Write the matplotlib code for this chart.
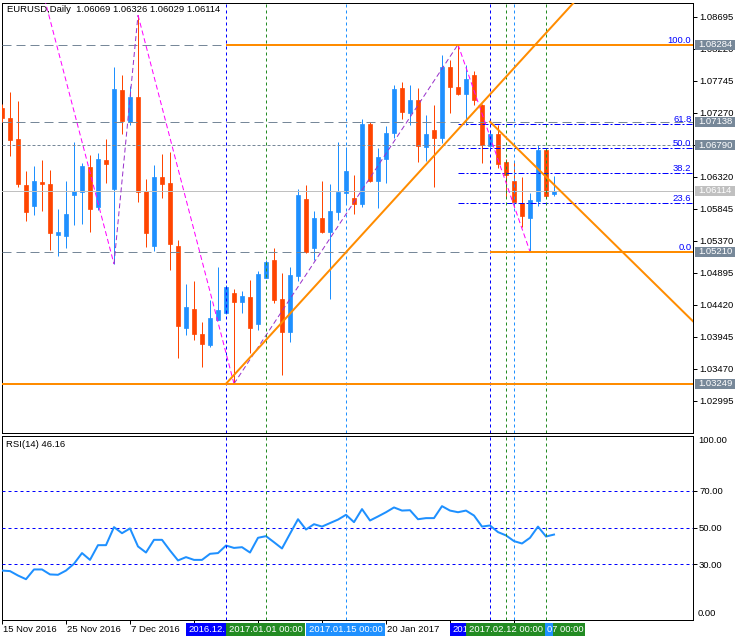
import matplotlib
matplotlib.use('Agg')
import matplotlib.pyplot as plt
from matplotlib.patches import Rectangle
import matplotlib.transforms as mtrans
import numpy as np

plt.rcParams['font.family'] = ['Liberation Sans', 'DejaVu Sans']

# ---------------- data ----------------
opens = [1.07342, 1.07198, 1.06882, 1.06199, 1.05892, 1.06243, 1.06214, 1.05461, 1.05446, 1.06050,
         1.06099, 1.06466, 1.05877, 1.06570, 1.06144, 1.07609, 1.07134, 1.07505, 1.06110, 1.05298,
         1.06318, 1.06229, 1.05293, 1.04081, 1.04358, 1.03987, 1.03828, 1.04199, 1.04303, 1.04596,
         1.04467, 1.04536, 1.04140, 1.04823, 1.05086, 1.04507, 1.04021, 1.04853, 1.05991, 1.05268,
         1.05709, 1.05506, 1.05803, 1.06085, 1.06006, 1.05921, 1.07104, 1.06263, 1.06589, 1.06975,
         1.07639, 1.07272, 1.07461, 1.06767, 1.07020, 1.06901, 1.07950, 1.07654, 1.07550, 1.07832,
         1.07386, 1.06778, 1.06956, 1.06540, 1.06258, 1.05932, 1.05714, 1.05966, 1.06718, 1.06069]
highs = [1.07401, 1.07579, 1.07446, 1.06407, 1.06481, 1.06570, 1.06422, 1.05843, 1.06258, 1.06837,
         1.06525, 1.06644, 1.06674, 1.06882, 1.07950, 1.07832, 1.07668, 1.08722, 1.06288, 1.06496,
         1.06659, 1.06689, 1.05382, 1.04729, 1.04774, 1.04165, 1.04492, 1.04982, 1.04715, 1.04655,
         1.04625, 1.04789, 1.04922, 1.05086, 1.05264, 1.04893, 1.04982, 1.06140, 1.06199, 1.05813,
         1.06258, 1.06214, 1.06837, 1.06763, 1.06347, 1.07179, 1.07134, 1.06748, 1.07075, 1.07683,
         1.07728, 1.07683, 1.07639, 1.07238, 1.07386, 1.08129, 1.08054, 1.08284, 1.07973, 1.07891,
         1.07401, 1.07015, 1.07090, 1.06585, 1.06540, 1.06322, 1.06085, 1.06793, 1.06733, 1.06326]
lows = [1.07134, 1.06634, 1.06174, 1.05665, 1.05754, 1.05817, 1.05234, 1.05149, 1.05268, 1.05610,
        1.05624, 1.05506, 1.05828, 1.06229, 1.05026, 1.06956, 1.07090, 1.05951, 1.05283, 1.05224,
        1.06010, 1.04937, 1.03635, 1.03977, 1.03903, 1.03502, 1.03799, 1.04188, 1.04284, 1.03249,
        1.04303, 1.03710, 1.04051, 1.04818, 1.04452, 1.03383, 1.03873, 1.04778, 1.05190, 1.05090,
        1.05482, 1.04511, 1.05684, 1.05921, 1.05773, 1.05877, 1.06243, 1.05862, 1.06233, 1.06901,
        1.07183, 1.07094, 1.06545, 1.06560, 1.06174, 1.06827, 1.07272, 1.07535, 1.07085, 1.07386,
        1.06525, 1.06748, 1.06451, 1.06025, 1.05877, 1.05580, 1.05210, 1.05892, 1.06028, 1.06029]
closes = [1.07193, 1.06867, 1.06214, 1.05798, 1.06258, 1.06214, 1.05486, 1.05501, 1.05768, 1.06110,
          1.06481, 1.05843, 1.06585, 1.06511, 1.07624, 1.07149, 1.07505, 1.06099, 1.05491, 1.06318,
          1.06218, 1.05316, 1.04110, 1.04388, 1.03992, 1.03843, 1.04225, 1.04343, 1.04685, 1.04467,
          1.04551, 1.04081, 1.04878, 1.05056, 1.04496, 1.04021, 1.04863, 1.06050, 1.05204, 1.05709,
          1.05497, 1.05813, 1.06095, 1.06407, 1.05921, 1.07104, 1.06263, 1.06615, 1.06971, 1.07624,
          1.07287, 1.07461, 1.06782, 1.06956, 1.06901, 1.07950, 1.07654, 1.07550, 1.07772, 1.07461,
          1.06793, 1.06956, 1.06511, 1.06347, 1.05951, 1.05743, 1.05976, 1.06718, 1.06040, 1.06114]
rsi = [26.6, 26.3, 23.9, 21.9, 27.2, 27.2, 24.5, 24.3, 26.6, 30.3,
       36.1, 32.4, 40.4, 40.4, 50.2, 46.9, 49.5, 39.7, 36.4, 43.3,
       43.3, 37.5, 32.1, 33.9, 32.4, 32.4, 35.7, 36.1, 40.2, 38.9,
       39.3, 36.4, 44.4, 45.3, 42.0, 38.6, 46.6, 54.5, 48.9, 51.8,
       50.5, 52.4, 54.3, 56.9, 52.9, 60.0, 53.8, 56.0, 58.3, 60.9,
       59.2, 59.4, 54.5, 55.1, 55.1, 61.6, 59.2, 58.3, 59.2, 56.5,
       50.5, 51.1, 47.5, 45.7, 42.6, 41.3, 44.4, 50.5, 45.1, 46.16]

price_ticks = ['1.08695', '1.08220', '1.07745', '1.07270', '1.06795', '1.06320', '1.05845',
               '1.05370', '1.04895', '1.04420', '1.03945', '1.03470', '1.02995']
rsi_levels = [70, 50, 30]
date_ticks = [0, 8, 16, 24, 32, 40, 48, 56, 64]
date_labels = {0: '15 Nov 2016', 8: '25 Nov 2016', 16: '7 Dec 2016', 48: '20 Jan 2017'}

# horizontal levels
level_high = 1.08284
level_r1 = 1.07138
level_r2 = 1.06790
level_cur = 1.06114
level_low = 1.05210
level_bottom = 1.03249
fib_levels = [100.0, 61.8, 50.0, 38.2, 23.6, 0.0]
fib_start = 57

# zigzag pivots (bar index, price)
zz_bar = [-4, 14, 17, 29, 57, 66]
zz_price = [1.1319, 1.05026, 1.08722, 1.03249, 1.08284, 1.05210]

# trend lines (two anchors each)
tl1 = [(28, 1.03249), (68, 1.08455)]
tl2 = [(61, 1.07138), (86, 1.04220)]

# vertical lines: bar, color, visible part of the label, draw order, where the visible part sits
vlines = [(28, '#0000FF', '2016.12.', 1, 'left'),
          (33, '#228B22', '2017.01.01 00:00', 2, 'center'),
          (43, '#1E90FF', '2017.01.15 00:00', 3, 'center'),
          (61, '#0000FF', '201', 1, 'left'),
          (68, '#228B22', '7 00:00', 1, 'right'),
          (64, '#1E90FF', '0', 2, 'right'),
          (63, '#228B22', '2017.02.12 00:00', 3, 'center')]

# ---------------- figure ----------------
W, H = 746, 640
fig = plt.figure(figsize=(W / 100, H / 100), dpi=100)
fig.patch.set_facecolor('white')

L_PX, R_PX = 2, 693
M_TOP, M_BOT = 2.5, 433
R_TOP, R_BOT = 435.5, 619.5
ax = fig.add_axes([L_PX / W, 1 - M_BOT / H, (R_PX - L_PX) / W, (M_BOT - M_TOP) / H])
axr = fig.add_axes([L_PX / W, 1 - R_BOT / H, (R_PX - L_PX) / W, (R_BOT - R_TOP) / H])

PX = 0.72  # one pixel in points
FS = 6.8
UP, DN = '#1E90FF', '#FF4500'
ORANGE = '#FF8C00'
GRAY = '#778899'

nbar = len(opens)
idx = np.arange(nbar)
o = np.array(opens); c = np.array(closes)
hi = np.array(highs); lo = np.array(lows)
cols = np.where(c >= o, UP, DN)

xmax = (R_PX - L_PX) / 8.0
ax.set_xlim(0, xmax)
ax.set_ylim(1.02518, 1.08908)
axr.set_xlim(0, xmax)
axr.set_ylim(0, 100)

# candles
ax.vlines(idx, lo, hi, colors=cols, lw=PX, zorder=3)
ax.bar(idx, np.maximum(np.abs(c - o), 0.00012), 0.58, bottom=np.minimum(o, c),
       color=cols, edgecolor=cols, lw=0.5, zorder=4)

# horizontal lines
long_dash = (0, (9, 5))
ax.axhline(level_high, color=GRAY, lw=PX, ls=long_dash, zorder=5)
ax.axhline(level_r1, color=GRAY, lw=PX, ls=long_dash, zorder=5)
ax.axhline(level_r2, color=GRAY, lw=PX, ls=(0, (3, 2)), zorder=5)
ax.axhline(level_cur, color='#C0C0C0', lw=PX, zorder=5)
ax.axhline(level_low, color=GRAY, lw=PX, ls=long_dash, zorder=5)
ax.axhline(level_bottom, color=ORANGE, lw=2 * PX, zorder=7)
ax.hlines(level_high, 28, xmax + 5, color=ORANGE, lw=2 * PX, zorder=7)
ax.hlines(level_low, 61, xmax + 5, color=ORANGE, lw=2 * PX, zorder=7)

# fibonacci
for lv in fib_levels:
    pr = level_low + lv / 100.0 * (level_high - level_low)
    if 0 < lv < 100:
        ax.hlines(pr, fib_start, xmax + 5, color='#0000FF', lw=PX, ls=(0, (6, 2, 2, 2)), zorder=6)
    ax.text(xmax - 0.2, pr, f'{lv:.1f}', color='#0000FF', fontsize=FS, ha='right', va='bottom', zorder=8)

# zigzag
for i in range(len(zz_bar) - 1):
    col = '#9932CC' if zz_price[i + 1] > zz_price[i] else '#FF00FF'
    ax.plot(zz_bar[i:i + 2], zz_price[i:i + 2], color=col, lw=PX, ls=(0, (5, 3)), zorder=6)

# trend lines (rays)
for (x1, y1), (x2, y2) in (tl1, tl2):
    xe = xmax + 5
    ye = y1 + (y2 - y1) / (x2 - x1) * (xe - x1)
    ax.plot([x1, xe], [y1, ye], color=ORANGE, lw=2 * PX, zorder=7)

# vertical lines
for b, col, lab, z, pos in vlines:
    for a in (ax, axr):
        a.axvline(b, color=col, lw=PX, ls=(0, (3, 3)), zorder=6)

# RSI
axr.plot(idx, rsi, color='#1E90FF', lw=2 * PX, zorder=5)
for lv in rsi_levels:
    axr.axhline(lv, color='#0000FF', lw=PX, ls=(0, (3, 3)), zorder=4)

# spines/ticks
for a in (ax, axr):
    for s in a.spines.values():
        s.set_color('black'); s.set_linewidth(PX)
    a.tick_params(axis='y', which='both', right=True, left=False, labelright=True, labelleft=False,
                  length=4 * PX, width=PX, pad=1.5, labelsize=FS, colors='black')
ax.set_xticks([])
ax.set_yticks([float(t) for t in price_ticks])
ax.set_yticklabels(price_ticks)
axr.set_yticks(rsi_levels)
axr.set_yticklabels([f'{v:.2f}' for v in rsi_levels])
axr.set_xticks(date_ticks)
axr.set_xticklabels([''] * len(date_ticks))
axr.tick_params(axis='x', length=4 * PX, width=PX, direction='out')

rsi_px = 100.0 / (R_BOT - R_TOP)
tby = mtrans.blended_transform_factory(axr.transAxes, axr.transData)
axr.text(1.0 + 5 / (R_PX - L_PX), 100 - 4.5 * rsi_px, '100.00', transform=tby,
         fontsize=FS, va='center', ha='left', clip_on=False)
axr.text(1.0 + 5 / (R_PX - L_PX), 6.5 * rsi_px, '0.00', transform=tby,
         fontsize=FS, va='center', ha='left', clip_on=False)

# right-axis price boxes
ppp = (ax.get_ylim()[1] - ax.get_ylim()[0]) / (M_BOT - M_TOP)
tb = mtrans.blended_transform_factory(ax.transAxes, ax.transData)
wpx = R_PX - L_PX
for val in (level_high, level_r1, level_r2, level_cur, level_low, level_bottom):
    fc = '#C0C0C0' if val == level_cur else GRAY
    ax.add_patch(Rectangle((1 + 2 / wpx, val - 5 * ppp), 40 / wpx, 10 * ppp, transform=tb,
                           facecolor=fc, edgecolor='none', clip_on=False, zorder=20))
    ax.text(1 + 22 / wpx, val, f'{val:.5f}', transform=tb, color='white', fontsize=FS,
            ha='center', va='center', clip_on=False, zorder=21)

# title and RSI label
o_, h_, l_, c_ = opens[-1], highs[-1], lows[-1], closes[-1]
ax.text(5 / wpx, 1 - (10 - M_TOP) / (M_BOT - M_TOP), f'EURUSD,Daily  {o_:.5f} {h_:.5f} {l_:.5f} {c_:.5f}',
        transform=ax.transAxes, fontsize=FS, va='center', ha='left', zorder=30)
axr.text(4 / wpx, 1 - (444.5 - R_TOP) / (R_BOT - R_TOP), f'RSI(14) {rsi[-1]:.2f}',
         transform=axr.transAxes, fontsize=FS, va='center', ha='left', zorder=30)

# date labels
hr = R_BOT - R_TOP
tbx = mtrans.blended_transform_factory(axr.transData, axr.transAxes)
for b, lab in date_labels.items():
    axr.text(b + 1 / 8, -(629.5 - R_BOT) / hr, lab, transform=tbx, fontsize=FS,
             ha='left', va='center', clip_on=False)

# vertical line label boxes
for b, col, lab, z, pos in vlines:
    x0 = b - 39.5 / 8
    axr.add_patch(Rectangle((x0, -(635.5 - R_BOT) / hr), 79 / 8, 12.5 / hr, transform=tbx,
                            facecolor=col, edgecolor='none', clip_on=False, zorder=20 + 2 * z))
    if pos == 'left':
        tx, ha = x0 + 2 / 8, 'left'
    elif pos == 'right':
        tx, ha = x0 + 77 / 8, 'right'
    else:
        tx, ha = b, 'center'
    axr.text(tx, -(629.5 - R_BOT) / hr, lab, transform=tbx, color='white', fontsize=FS,
             ha=ha, va='center', clip_on=False, zorder=21 + 2 * z)

fig.savefig('out.png', dpi=100, facecolor='white')
